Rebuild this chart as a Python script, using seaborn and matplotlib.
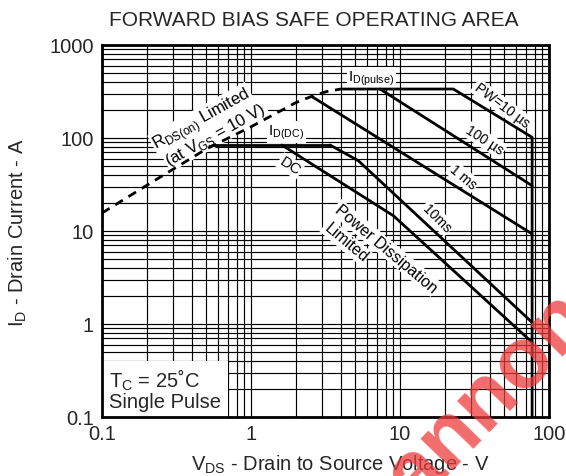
import matplotlib
matplotlib.use("Agg")
import matplotlib.pyplot as plt
import matplotlib.ticker as mticker
from matplotlib.patches import Rectangle
import seaborn as sns

# curve data (V, A)
rds_v = [0.1, 0.2, 0.5, 1, 2, 2.55, 3.2, 4.0]
rds_i = [15.6, 31, 76, 132, 240, 280, 315, 336]

pw10us_v = [4.0, 22.8, 77, 77]
pw10us_i = [336, 336, 101.6, 0.1]

pw100us_v = [7.34, 77]
pw100us_i = [336, 30.7]

pw1ms_v = [2.55, 77]
pw1ms_i = [280, 9.3]

iddc_v = [0.55, 3.39]
iddc_i = [84, 84]

pw10ms_v = [3.39, 5.25, 77]
pw10ms_i = [84, 57, 1.04]

dc_v = [1.61, 9.02, 77]
dc_i = [84, 14.6, 0.635]

x_ticks = [0.1, 1, 10, 100]
y_ticks = [0.1, 1, 10, 100, 1000]

sns.set_style("white")
plt.rcParams['font.family'] = ['Liberation Sans', 'DejaVu Sans']
plt.rcParams['mathtext.fontset'] = 'custom'
plt.rcParams['mathtext.rm'] = 'Liberation Sans'

fig = plt.figure(figsize=(5.66, 4.77), dpi=100)
ax = fig.add_axes([0.1802, 0.1237, 0.7898, 0.7799])
ax.set_xscale("log")
ax.set_yscale("log")
ax.set_xlim(0.1, 100)
ax.set_ylim(0.1, 1000)

ax.set_axisbelow(True)
ax.xaxis.set_minor_locator(mticker.LogLocator(base=10, subs=[2, 3, 4, 5, 6, 7, 8, 9]))
ax.yaxis.set_minor_locator(mticker.LogLocator(base=10, subs=[2, 3, 4, 5, 6, 7, 8, 9]))
ax.xaxis.set_minor_formatter(mticker.NullFormatter())
ax.yaxis.set_minor_formatter(mticker.NullFormatter())
ax.set_xticks(x_ticks)
ax.set_yticks(y_ticks)
ax.xaxis.set_major_formatter(mticker.FuncFormatter(lambda v, p: "%g" % v))
ax.yaxis.set_major_formatter(mticker.FuncFormatter(lambda v, p: "%g" % v))
ax.grid(which="both", color="black", lw=0.85)
ax.tick_params(which="both", length=0, labelsize=14.5)
ax.tick_params(axis="y", pad=6)
ax.tick_params(axis="x", pad=5)
for s in ax.spines.values():
    s.set_linewidth(2)
    s.set_color("black")
    s.set_zorder(6)

lw = 2.0
sns.lineplot(x=rds_v, y=rds_i, sort=False, estimator=None, color="black", lw=lw,
             ax=ax, linestyle=(0, (3.2, 2.4)), zorder=4)
for xv, yv in [(pw10us_v, pw10us_i), (pw100us_v, pw100us_i), (pw1ms_v, pw1ms_i),
               (iddc_v, iddc_i), (pw10ms_v, pw10ms_i), (dc_v, dc_i)]:
    sns.lineplot(x=xv, y=yv, sort=False, estimator=None, color="black", lw=lw,
                 ax=ax, zorder=4)

box = dict(fc="white", ec="none", pad=1.0)
lab = dict(ha="center", va="center", zorder=3, bbox=box, color="black")

ax.text(0.47, 156, r"R$_\mathregular{DS(on)}$ Limited", rotation=29, fontsize=12, **lab)
ax.text(0.58, 108, r"(at V$_\mathregular{GS}$ = 10 V)", rotation=29, fontsize=12, **lab)
ax.text(6.4, 440, r"I$_\mathregular{D(pulse)}$", fontsize=11, **lab)
ax.text(1.72, 116, r"I$_\mathregular{D(DC)}$", fontsize=11, **lab)
ax.text(1.83, 50, "DC", rotation=-33, fontsize=11, **lab)
ax.text(48, 226, "PW=10 µs", rotation=-37, fontsize=10, **lab)
ax.text(37, 95, "100 µs", rotation=-33, fontsize=10, **lab)
ax.text(26.5, 38, "1 ms", rotation=-40, fontsize=10, **lab)
ax.text(17.7, 13.8, "10ms", rotation=-45, fontsize=10, **lab)
ax.text(8.05, 6.57, "Power Dissipation", rotation=-40, fontsize=11.5, **lab)
ax.text(4.34, 7.62, "Limited", rotation=-40, fontsize=11.5, **lab)

ax.add_patch(Rectangle((0, 0), 0.282, 0.15, transform=ax.transAxes,
                       fc="white", ec="none", zorder=1))
ax.text(0.112, 0.117, "T$_\\mathregular{C}$ = 25˚C\nSingle Pulse", fontsize=14.5,
        ha="left", va="bottom", zorder=3, linespacing=1.0)

fig.text(0.555, 0.958, "FORWARD BIAS SAFE OPERATING AREA", ha="center", va="center",
         fontsize=15)
fig.text(0.601, 0.027, r"V$_\mathregular{DS}$ - Drain to Source Voltage - V",
         ha="center", va="center", fontsize=14.5)
fig.text(0.032, 0.513, r"I$_\mathregular{D}$ - Drain Current - A", ha="center",
         va="center", rotation=90, fontsize=14.5)

# red watermark fragment
fig.text(0.866, 0.165, "annon", rotation=46, color="#ee3b3b", alpha=0.75,
         fontsize=62, fontweight="bold", ha="center", va="center", zorder=10)

fig.savefig("out.png", dpi=100)
